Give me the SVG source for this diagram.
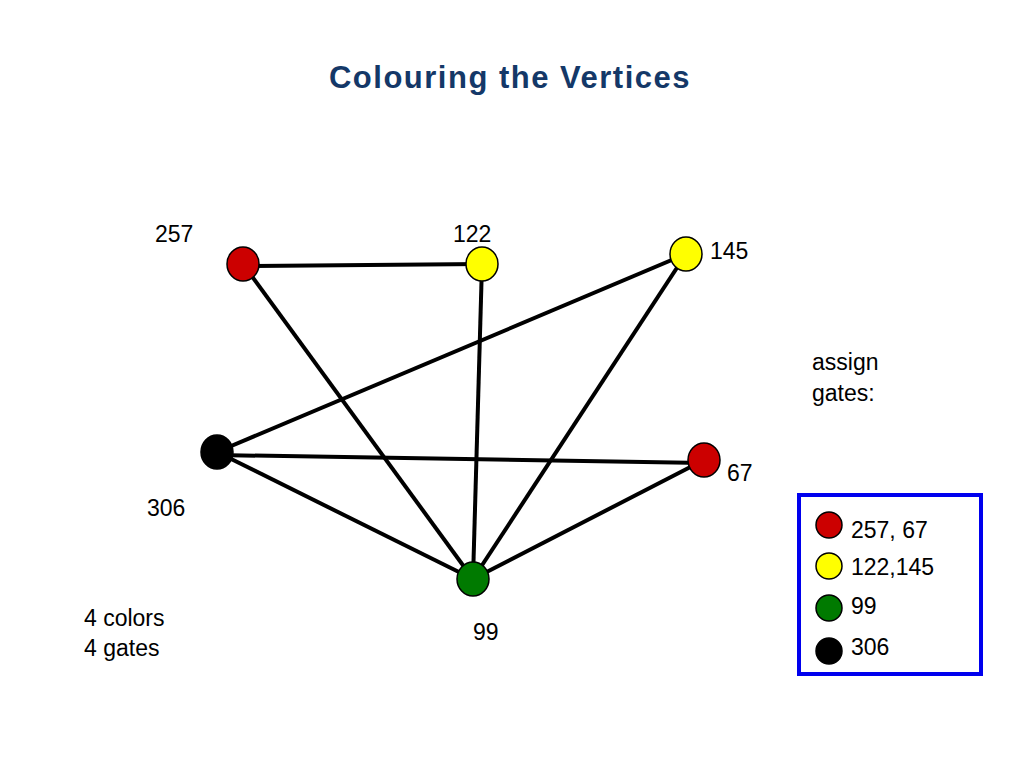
<svg xmlns="http://www.w3.org/2000/svg" width="1024" height="768" viewBox="0 0 1024 768">
<style>
.lbl{font-family:"Liberation Sans",Arial,sans-serif;font-size:23px;fill:#000}
.edge{stroke:#000;stroke-width:4;fill:none}
.node{stroke:#000;stroke-width:1.5}
.red{fill:#cc0000}.yel{fill:#ffff00}.grn{fill:#007a00}.blk{fill:#000}
</style>
<rect width="1024" height="768" fill="#fff"/>
<text x="510" y="88" text-anchor="middle" font-family="Liberation Sans,Arial,sans-serif" font-weight="bold" font-size="31" letter-spacing="1.5" fill="#143868">Colouring the Vertices</text>
<g id="connectors">
<line class="edge" x1="243" y1="266" x2="482" y2="264"/>
<line class="edge" x1="243" y1="264" x2="473" y2="579"/>
<line class="edge" x1="482" y1="264" x2="473" y2="579"/>
<line class="edge" x1="686" y1="254" x2="217" y2="452"/>
<line class="edge" x1="686" y1="254" x2="473" y2="579"/>
<line class="edge" x1="217" y1="455" x2="704" y2="463"/>
<line class="edge" x1="217" y1="452" x2="473" y2="579"/>
<line class="edge" x1="704" y1="460" x2="473" y2="579"/>
</g>
<g id="n257"><ellipse class="node red" cx="243" cy="264" rx="16" ry="17"/><text class="lbl" x="155" y="242">257</text></g>
<g id="n122"><ellipse class="node yel" cx="482" cy="264" rx="16" ry="17"/><text class="lbl" x="453" y="242">122</text></g>
<g id="n145"><ellipse class="node yel" cx="686" cy="254" rx="16" ry="17"/><text class="lbl" x="710" y="259">145</text></g>
<g id="n306"><ellipse class="node blk" cx="217" cy="452" rx="16" ry="17"/><text class="lbl" x="147" y="516">306</text></g>
<g id="n67"><ellipse class="node red" cx="704" cy="460" rx="16" ry="17"/><text class="lbl" x="727" y="481">67</text></g>
<g id="n99"><ellipse class="node grn" cx="473" cy="579" rx="16" ry="17"/><text class="lbl" x="473" y="640">99</text></g>
<text class="lbl" x="812" y="370">assign</text>
<text class="lbl" x="812" y="401">gates:</text>
<text class="lbl" x="84" y="626">4 colors</text>
<text class="lbl" x="84" y="656">4 gates</text>
<g id="legend">
<rect x="799" y="495" width="182" height="179" fill="none" stroke="#0000ee" stroke-width="4"/>
<circle class="node red" cx="829" cy="525" r="13"/>
<circle class="node yel" cx="829" cy="566" r="13"/>
<circle class="node grn" cx="829" cy="608" r="13"/>
<circle class="node blk" cx="829" cy="651" r="13"/>
<text class="lbl" x="851" y="538" font-size="24">257, 67</text>
<text class="lbl" x="851" y="575" font-size="24">122,145</text>
<text class="lbl" x="851" y="614" font-size="24">99</text>
<text class="lbl" x="851" y="655" font-size="24">306</text>
</g>
</svg>
